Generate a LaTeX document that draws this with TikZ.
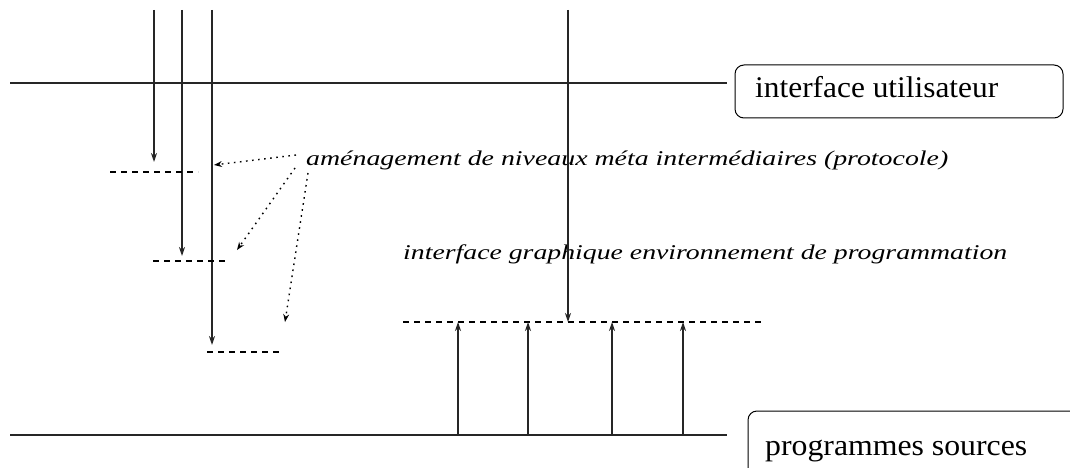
\documentclass[tikz,border=0pt]{standalone}
\usepackage{fontspec}
\setmainfont{Liberation Serif}
\usetikzlibrary{arrows.meta}
\begin{document}
\begin{tikzpicture}[x=1pt,y=-1pt,
  solid line/.style={line width=1.3pt,black!85},
  arr/.style={solid line,-{Stealth[length=9pt,width=6pt]}},
  dotarr/.style={line width=1.4pt,dash pattern=on 1.6pt off 4.5pt,-{Stealth[length=8pt,width=6pt,line width=0pt]}},
  dashline/.style={line width=1.3pt,dash pattern=on 6pt off 5pt},
  boxstyle/.style={draw,line width=1pt,rounded corners=9pt,inner sep=0pt},
  lbl/.style={font=\fontsize{30}{32}\selectfont,inner sep=0pt,anchor=base west},
  ital/.style={font=\fontsize{21}{23}\selectfont\itshape,inner sep=0pt,anchor=base west}]
\useasboundingbox (0,0) rectangle (1070,468);
\clip (0,0) rectangle (1070,468);
% main horizontal lines
\coordinate (tl) at (10,83);
\coordinate (tr) at (727,83);
\coordinate (bl) at (10,435);
\coordinate (br) at (727,435);
\draw[solid line] (tl) -- (tr);
\draw[solid line] (bl) -- (br);
% boxes
\node[boxstyle,minimum width=328pt,minimum height=53pt] (ui) at (899,91.5) {};
\node[lbl] (uitext) at (755,98) {\resizebox{243pt}{\height}{interface utilisateur}};
\node[boxstyle,minimum width=360pt,minimum height=90pt] (ps) at (928,456) {};
\node[lbl] (pstext) at (765,455) {\resizebox{262pt}{\height}{programmes sources}};
% left down arrows
\coordinate (a1s) at (154,10); \coordinate (a1e) at (154,162);
\coordinate (a2s) at (182,10); \coordinate (a2e) at (182,256);
\coordinate (a3s) at (212,10); \coordinate (a3e) at (212,345);
\draw[arr] (a1s) -- (a1e);
\draw[arr] (a2s) -- (a2e);
\draw[arr] (a3s) -- (a3e);
% left dashed levels
\coordinate (d1a) at (110,172); \coordinate (d1b) at (198,172);
\coordinate (d2a) at (153,261); \coordinate (d2b) at (227,261);
\coordinate (d3a) at (207,352); \coordinate (d3b) at (281,352);
\draw[dashline] (d1a) -- (d1b);
\draw[dashline] (d2a) -- (d2b);
\draw[dashline] (d3a) -- (d3b);
% annotation text
\node[ital] (meta) at (306,165) {\resizebox{642pt}{\height}{aménagement de niveaux méta intermédiaires (protocole)}};
\coordinate (p1s) at (296,155); \coordinate (p1e) at (214,165);
\coordinate (p2s) at (295,168); \coordinate (p2e) at (237,250);
\coordinate (p3s) at (308,173); \coordinate (p3e) at (285,322);
\draw[dotarr] (p1s) -- (p1e);
\draw[dotarr] (p2s) -- (p2e);
\draw[dotarr] (p3s) -- (p3e);
% right part
\node[ital] (gui) at (403,259) {\resizebox{604pt}{\height}{interface graphique environnement de programmation}};
\coordinate (da) at (403,322); \coordinate (db) at (762,322);
\draw[dashline] (da) -- (db);
\coordinate (cs) at (568,10); \coordinate (ce) at (568,322);
\draw[arr] (cs) -- (ce);
\foreach \x [count=\i] in {458,528,612,683}{
  \coordinate (u\i s) at (\x,435);
  \coordinate (u\i e) at (\x,322);
  \draw[arr] (u\i s) -- (u\i e);
}
\end{tikzpicture}
\end{document}
